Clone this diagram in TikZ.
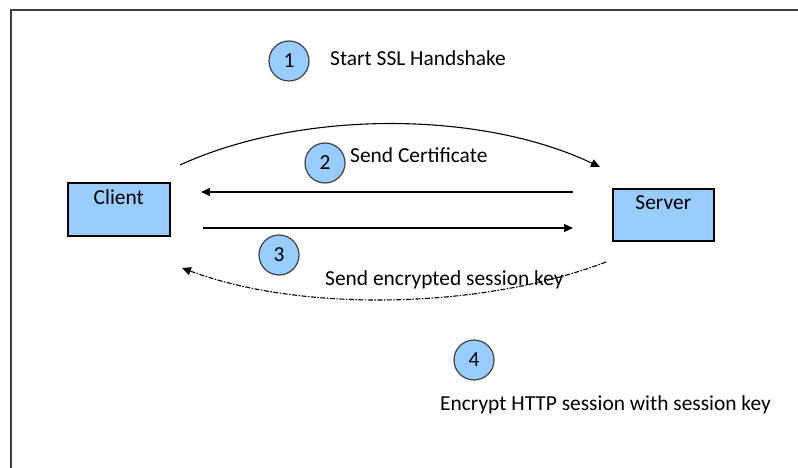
\documentclass[tikz,border=0pt]{standalone}
\usepackage{fontspec}
\setmainfont{Carlito}
\usetikzlibrary{arrows.meta, positioning}

\definecolor{boxblue}{HTML}{99CCFF}
\definecolor{ringgray}{HTML}{404040}

\tikzset{
	host/.style = {draw=black, line width=1.6bp, fill=boxblue, minimum width=102bp, minimum height=53bp, anchor=north west, inner sep=0pt},
	stepcircle/.style = {circle, draw=ringgray, line width=1.2bp, fill=boxblue, minimum size=40bp, inner sep=0pt},
	note/.style = {anchor=west, inner sep=0pt},
	msg/.style = {line width=1.1bp, -{Triangle[length=9bp, width=8bp]}}
}

\begin{document}
\begin{tikzpicture}[x=1bp, y=-1bp, font=\fontsize{21.5}{25}\selectfont]
	\useasboundingbox (0, 0) rectangle (798, 468);
	% frame
	\draw [line width=2bp, draw=ringgray] (11, 468) -- (11, 10) -- (798, 10);
	% hosts
	\node [host] (client) at (67, 182) {};
	\node [below=7bp of client.north, inner sep=0pt] (clientlabel) {Client};
	\node [host, minimum width=101bp, minimum height=52bp] (server) at (612, 188) {};
	\node [below=7bp of server.north, inner sep=0pt] (serverlabel) {Server};
	% steps
	\node [stepcircle] (one) at (289, 61) {1};
	\node [note] (onetext) at (330, 58) {Start SSL Handshake};
	\node [stepcircle] (two) at (325, 163) {2};
	\node [note] (twotext) at (350, 155) {Send Certificate};
	\node [stepcircle] (three) at (279, 255) {3};
	\node [note] (threetext) at (325, 280) {Send encrypted session key};
	\node [stepcircle] (four) at (474, 360) {4};
	\node [note] (fourtext) at (440, 405) {Encrypt HTTP session with session key};
	% message ends
	\coordinate (hello) at (180, 165);
	\coordinate (helloend) at (600, 167);
	\coordinate (certstart) at (573, 192);
	\coordinate (certend) at (201, 192);
	\coordinate (keystart) at (203, 228);
	\coordinate (keyend) at (573, 228);
	\coordinate (sessstart) at (606, 262);
	\coordinate (sessend) at (182, 268);
	% messages
	\draw [msg] (hello) .. controls (300, 110) and (480, 110) .. (helloend);
	\draw [msg] (certstart) -- (certend);
	\draw [msg] (keystart) -- (keyend);
	\draw [msg, dash pattern=on 5bp off 1.5bp on 1.5bp off 1.5bp] (sessstart) .. controls (480, 310) and (300, 312) .. (sessend);
\end{tikzpicture}
\end{document}
